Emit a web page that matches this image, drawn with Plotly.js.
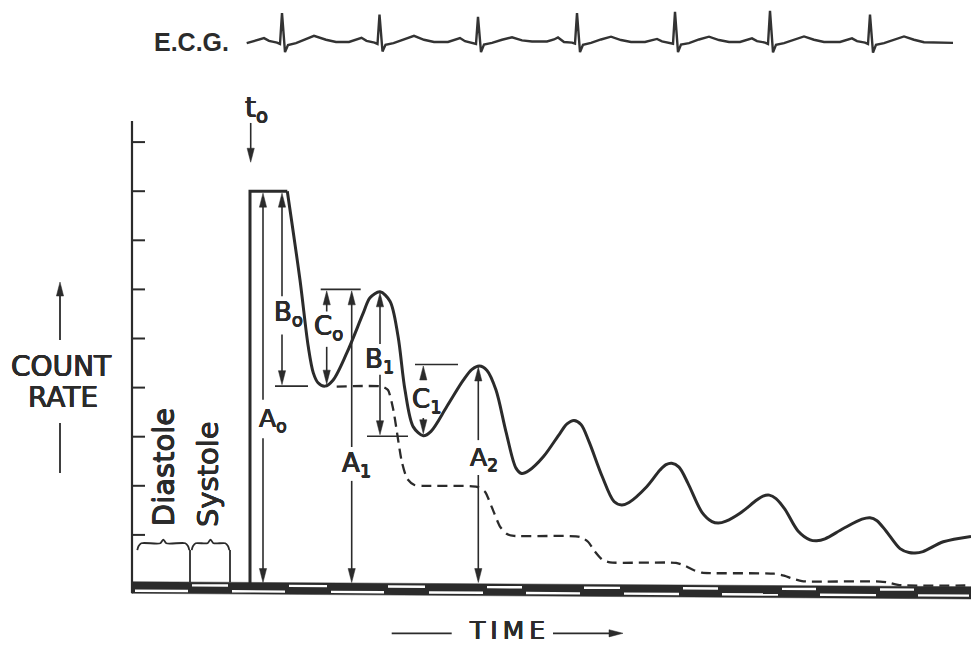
<!DOCTYPE html>
<html><head><meta charset="utf-8">
<script src="https://cdn.plot.ly/plotly-3.0.1.min.js"></script>
<style>html,body{margin:0;padding:0;background:#fff;}#chart{width:971px;height:645px;}</style>
</head><body><div id="chart"></div>
<script>
// ================= DATA (time in s from the count-rate axis; count rate in tick units) =================
const rectT = [1.18, 1.18, 1.553];
const rectY = [0, 8.0, 8.0];

const curveT = [1.553, 1.68, 1.763, 1.813, 1.86, 1.93, 2.01, 2.147, 2.313, 2.38, 2.48, 2.58, 2.66, 2.73, 2.813, 2.913, 2.99,
  3.147, 3.313, 3.40, 3.473, 3.55, 3.64, 3.74, 3.84, 3.897, 3.97, 4.113, 4.28, 4.35, 4.42, 4.49, 4.57, 4.70, 4.82, 4.897, 4.97,
  5.147, 5.28, 5.34, 5.397, 5.47, 5.56, 5.70, 5.80, 5.863, 5.94, 6.08, 6.247, 6.31, 6.373, 6.44, 6.53, 6.66, 6.78, 6.847, 6.93,
  7.113, 7.30, 7.38, 7.45, 7.54, 7.68, 7.77, 7.83, 7.91, 8.113, 8.39];
const curveY = [8.0, 6.19, 4.83, 4.30, 4.10, 4.03, 4.15, 4.70, 5.52, 5.83, 5.95, 5.76, 5.05, 3.95, 3.20, 3.02, 3.11,
  3.61, 4.15, 4.37, 4.44, 4.35, 3.95, 3.10, 2.36, 2.25, 2.31, 2.59, 3.07, 3.26, 3.33, 3.25, 2.90, 2.20, 1.68, 1.61, 1.66,
  1.98, 2.32, 2.43, 2.46, 2.38, 2.05, 1.46, 1.27, 1.24, 1.28, 1.44, 1.71, 1.79, 1.81, 1.74, 1.52, 1.08, 0.90, 0.88, 0.92,
  1.13, 1.32, 1.35, 1.29, 1.08, 0.72, 0.64, 0.63, 0.66, 0.86, 0.97];

// dashed "background" step curve
const bgT = [2.047, 2.50, 2.56, 2.613, 2.697, 2.75, 2.82, 2.90, 3.45, 3.53, 3.597, 3.68, 3.75, 3.82,
  4.48, 4.56, 4.63, 4.70, 4.78, 5.44, 5.53, 5.62, 5.70, 5.78, 6.42, 6.52, 6.62, 6.70, 6.78,
  7.48, 7.56, 7.66, 8.39];
const bgY = [4.02, 4.02, 3.95, 3.55, 2.50, 2.15, 2.02, 2.00, 1.98, 1.88, 1.57, 1.17, 1.02, 0.98,
  0.96, 0.86, 0.66, 0.50, 0.44, 0.43, 0.37, 0.28, 0.23, 0.22, 0.21, 0.17, 0.10, 0.06, 0.05,
  0.05, 0.03, -0.02, -0.03];

// ECG trace (mV)
const ecgT = [1.147,1.22,1.28,1.32,1.37,1.45,1.48,1.50,1.53,1.56,1.64,1.74,1.82,1.94,2.04,
  2.17,2.25,2.295,2.345,2.425,2.455,2.475,2.505,2.535,2.615,2.715,2.82,2.92,3.02,
  3.16,3.24,3.28,3.33,3.41,3.44,3.46,3.49,3.52,3.60,3.70,3.80,3.90,4.00,
  4.15,4.22,4.26,4.32,4.40,4.43,4.45,4.48,4.51,4.59,4.69,4.79,4.89,4.99,
  5.13,5.21,5.25,5.30,5.38,5.41,5.43,5.46,5.49,5.57,5.67,5.77,5.87,5.97,
  6.08,6.16,6.20,6.25,6.33,6.36,6.38,6.41,6.44,6.52,6.62,6.72,6.82,6.92,
  7.08,7.16,7.20,7.25,7.33,7.36,7.38,7.41,7.44,7.52,7.62,7.72,7.82,7.92,8.21];
const ecgMV = [-0.04,0.03,0.10,0.14,0.04,-0.02,-0.07,1.03,-0.36,-0.11,-0.04,0.09,0.22,0.08,0.0,
  0.0,0.09,0.15,0.04,-0.02,-0.07,0.98,-0.34,-0.10,-0.04,0.10,0.22,0.08,0.0,
  0.0,0.10,0.14,0.03,-0.03,-0.07,0.90,-0.36,-0.09,-0.03,0.08,0.17,0.06,0.02,
  0.02,0.09,0.16,0.0,-0.02,-0.06,1.03,-0.36,-0.10,-0.03,0.09,0.19,0.07,0.0,
  0.0,0.07,0.11,0.02,-0.02,-0.06,1.08,-0.36,-0.09,-0.04,0.09,0.19,0.07,0.0,
  0.0,0.08,0.13,0.03,-0.02,-0.07,1.11,-0.37,-0.10,-0.04,0.09,0.20,0.08,0.0,
  0.0,0.08,0.13,0.03,-0.02,-0.07,0.98,-0.38,-0.10,-0.04,0.09,0.20,0.08,-0.01,-0.03];

// cardiac phases along the time base
const diastoleStart = [0.01, 0.98, 1.97, 2.95, 3.92, 4.90, 5.88, 6.86, 7.84];
const systoleStart  = [0.58, 1.55, 2.54, 3.53, 4.50, 5.49, 6.48, 7.46];
const tEnd = 8.39;
const braceSpans = [[0.053, 0.573], [0.597, 0.973]];
const braceNames = ['Diastole', 'Systole'];

const yTicks = [1, 2, 3, 4, 5, 6, 7, 8, 9];

// measurement arrows (x, tail, tip)
const arrowX    = [1.31, 1.31, 1.50, 1.50, 1.947, 1.947, 2.197, 2.197, 2.48, 2.48, 2.913, 2.913, 3.463, 3.463, 1.187];
const arrowFrom = [3.75, 2.97, 5.86, 5.08, 5.55, 4.83, 2.79, 2.10, 4.89, 4.26, 4.20, 3.38, 2.93, 2.22, 9.39];
const arrowTo   = [7.96, 0.03, 7.96, 4.06, 5.97, 4.07, 5.97, 0.03, 5.93, 3.04, 4.44, 3.06, 4.42, 0.03, 8.59];
// reference levels
const refY  = [4.03, 6.00, 3.01, 4.47];
const refT0 = [1.43, 1.887, 2.35, 2.83];
const refT1 = [1.76, 2.287, 2.76, 3.26];

// ================= DRAWING =================
const ink = '#2b2b2b';
const F = 'DejaVu Sans, Noto Sans, sans-serif';
const heavy = '0.45px 0 0 #2b2b2b, -0.45px 0 0 #2b2b2b, 0 0.45px 0 #2b2b2b, 0 -0.45px 0 #2b2b2b';
const traces = [];
function line(x, y, w, extra) {
  traces.push(Object.assign({type:'scatter', mode:'lines', x:x, y:y, hoverinfo:'skip',
    line:{color:ink, width:w}}, extra || {}));
}
function poly(x, y, color) {
  traces.push({type:'scatter', mode:'lines', x:x, y:y, fill:'toself', fillcolor:color,
    line:{color:color, width:0.5}, hoverinfo:'skip'});
}
// arrowhead geometry (px -> data)
const pxX = 0.01, pxY = 1/49.1;
function vArrow(x, y0, y1, w) {
  const s = Math.sign(y1 - y0), L = 14*pxY, W = 3.6*pxX;
  line([x, x], [y0, y1 - s*L*0.5], w);
  poly([x-W, x, x+W, x-W], [y1 - s*L, y1, y1 - s*L, y1 - s*L], ink);
}
function hArrow(y, x0, x1, w) {
  const s = Math.sign(x1 - x0), L = 14*pxX, W = 3.6*pxY;
  line([x0, x1 - s*L*0.5], [y, y], w);
  poly([x1 - s*L, x1, x1 - s*L, x1 - s*L], [y-W, y, y+W, y-W], ink);
}

// time base band (slightly tilted as in the scan)
const bandTop0 = 0.047, bandTop1 = -0.055, bandBot0 = -0.189, bandBot1 = -0.305;
const topAt = t => bandTop0 + (bandTop1 - bandTop0) * t / tEnd;
poly([0, tEnd, tEnd, 0, 0], [bandTop0, bandTop1, bandBot1, bandBot0, bandTop0], ink);
const wx = [], wy = [], ux = [], uy = [];
diastoleStart.forEach((d, i) => {
  const e = (i < systoleStart.length ? systoleStart[i] : tEnd) - 0.02;
  const a = d + 0.02;
  wx.push(a, e, null); wy.push(topAt(a) - 0.183, topAt(e) - 0.183, null);
});
systoleStart.forEach((s, i) => {
  const a = s + 0.02, e = diastoleStart[i+1] - 0.02;
  ux.push(a, e, null); uy.push(topAt(a) - 0.067, topAt(e) - 0.067, null);
});
line(wx, wy, 2.4, {line:{color:'#ffffff', width:2.4}});
line(ux, uy, 2.4, {line:{color:'#ffffff', width:2.4}});

// count-rate axis and ticks
line([0, 0], [9.43, bandBot0], 2.2);
const tx = [], ty = [];
yTicks.forEach(v => { tx.push(0, 0.13, null); ty.push(v, v, null); });
line(tx, ty, 2);

// braces + phase boundaries
braceSpans.forEach(([a, b]) => {
  const m = (a + b) / 2, yb = 0.69, yt = 0.83, yp = 0.905;
  line([a, a+0.012, a+0.04, m-0.03, m, m+0.03, b-0.04, b-0.012, b],
       [yb, yt-0.06, yt, yt, yp, yt, yt, yt-0.06, yb], 1.8, {line:{color:ink, width:1.8, shape:'spline', smoothing:0.7}});
});
line([systoleStart[0], systoleStart[0], null, diastoleStart[1], diastoleStart[1]],
     [0.69, topAt(systoleStart[0]), null, 0.69, topAt(diastoleStart[1])], 1.8);

// curves
line(bgT, bgY, 2.3, {line:{color:ink, width:2.3, dash:'10px,6px', shape:'spline', smoothing:0.6}});
line(rectT, rectY, 3);
line(curveT, curveY, 3, {line:{color:ink, width:3, shape:'spline', smoothing:0.9}});

// reference lines and measurement arrows
const rx = [], ry = [];
refY.forEach((v, i) => { rx.push(refT0[i], refT1[i], null); ry.push(v, v, null); });
line(rx, ry, 1.6);
arrowX.forEach((x, i) => vArrow(x, arrowFrom[i], arrowTo[i], 1.6));

// ECG
traces.push({type:'scatter', mode:'lines', x:ecgT, y:ecgMV, yaxis:'y2', hoverinfo:'skip',
  line:{color:'#333333', width:2.4}});

// COUNT RATE and TIME arrows
vArrow(-0.72, 4.97, 6.15, 1.8);
line([-0.72, -0.72], [3.28, 2.26], 1.8);
line([2.597, 3.197], [-1.004, -1.004], 1.8);
hArrow(-1.004, 4.21, 4.91, 1.8);

function lab(text, x, y, size, extra) {
  return Object.assign({text:text, x:x, y:y, xref:'x', yref:'y', showarrow:false,
    xanchor:'center', yanchor:'middle', font:{family:F, size:size, color:ink, shadow:heavy}}, extra || {});
}
const annotations = [
  lab('E.C.G.', 0.595, 0, 25, {yref:'y2', font:{family:'Liberation Sans Narrow, Liberation Sans, sans-serif', size:25, color:ink, weight:700}}),
  lab('COUNT', -0.705, 4.42, 28),
  lab('RATE', -0.69, 3.80, 28),
  lab('T\u2009I\u2009M\u2009E', 3.75, -0.955, 25),
  lab('t<sub>o</sub>', 1.24, 9.66, 28),
  lab('A<sub>o</sub>', 1.405, 3.35, 25),
  lab('B<sub>o</sub>', 1.56, 5.50, 26),
  lab('C<sub>o</sub>', 1.96, 5.22, 26),
  lab('A<sub>1</sub>', 2.247, 2.44, 26),
  lab('B<sub>1</sub>', 2.473, 4.56, 26),
  lab('C<sub>1</sub>', 2.95, 3.73, 26),
  lab('A<sub>2</sub>', 3.52, 2.54, 25),
  lab(braceNames[0], 0.32, 2.38, 29, {textangle:-90}),
  lab(braceNames[1], 0.755, 2.23, 29, {textangle:-90})
];

const layout = {
  width:971, height:645, margin:{l:0, r:0, t:0, b:0},
  paper_bgcolor:'#ffffff', plot_bgcolor:'#ffffff', showlegend:false,
  xaxis:{range:[-1.32, 8.39], visible:false, fixedrange:true},
  yaxis:{range:[-1.2424, 11.894], visible:false, fixedrange:true},
  yaxis2:{range:[-21.536, 1.5], overlaying:'y', visible:false, fixedrange:true},
  annotations:annotations
};
Plotly.newPlot('chart', traces, layout, {displayModeBar:false, staticPlot:true});
</script></body></html>
